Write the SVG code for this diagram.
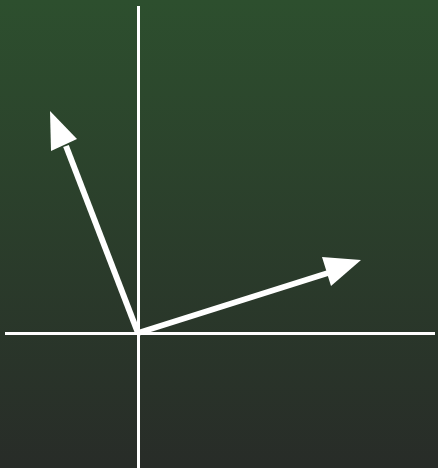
<svg xmlns="http://www.w3.org/2000/svg" width="438" height="468" viewBox="0 0 438 468">
<defs>
<linearGradient id="bg" x1="0" y1="0" x2="0" y2="1">
<stop offset="0" stop-color="#2d4f2e"/>
<stop offset="1" stop-color="#282c28"/>
</linearGradient>
<style>
.axis{stroke:#ffffff;stroke-width:3;fill:none}
.shaft{stroke:#ffffff;stroke-width:6;fill:none}
.head{fill:#ffffff}
</style>
</defs>
<rect x="0" y="0" width="438" height="468" fill="url(#bg)"/>
<g id="axes">
<line class="axis" x1="138.5" y1="6" x2="138.5" y2="468"/>
<line class="axis" x1="5" y1="333.5" x2="435" y2="333.5"/>
</g>
<g id="connectors">
<g id="vector-a">
<line class="shaft" x1="138" y1="333" x2="66" y2="146"/>
<polygon class="head" points="50,111 77,139 51,151"/>
</g>
<g id="vector-b">
<line class="shaft" x1="138" y1="333" x2="328" y2="273"/>
<polygon class="head" points="361,260 322,257 331,286"/>
</g>
</g>
</svg>
